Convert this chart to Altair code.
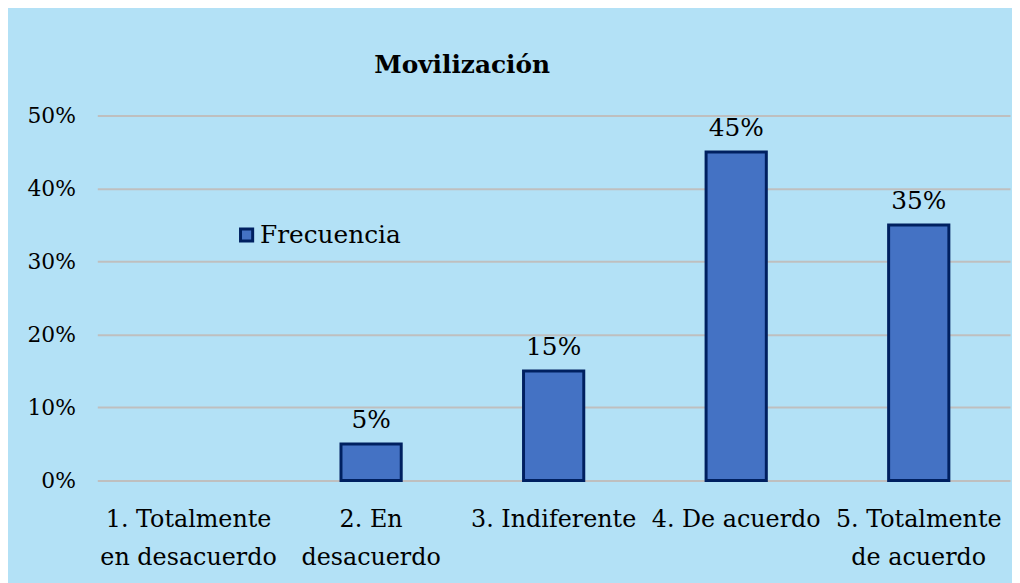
import altair as alt
import pandas as pd

categories = ["1. Totalmente\nen desacuerdo", "2. En\ndesacuerdo", "3. Indiferente", "4. De acuerdo", "5. Totalmente\nde acuerdo"]
values = [0.0, 0.05, 0.15, 0.45, 0.35]
series_name = "Frecuencia"
y_ticks = [0.0, 0.1, 0.2, 0.3, 0.4, 0.5]

df = pd.DataFrame({"cat": categories, "val": values, "serie": [series_name] * len(categories)})

FONT = "DejaVu Serif"
BG = "#B3E1F6"
FILL = "#4472C4"
EDGE = "#002060"

x_enc = alt.X("cat:N", sort=categories, title=None,
              scale=alt.Scale(domain=categories, paddingInner=0.67, paddingOuter=0.335),
              axis=alt.Axis(labelExpr="split(datum.value, '\\n')", labelAngle=0,
                            labelFontSize=24, labelFont=FONT, labelColor="#000000",
                            labelPadding=27, labelLineHeight=39, labelLimit=0,
                            ticks=False, domain=False, grid=False, labelBaseline="top"))
y_enc = alt.Y("val:Q", title=None,
              scale=alt.Scale(domain=[0, 0.5], nice=False),
              axis=alt.Axis(values=y_ticks, format=".0%", labelFontSize=22, labelFont=FONT,
                            labelColor="#000000", labelPadding=22, ticks=False, domain=False,
                            grid=True, gridColor="#BFBFBF", gridWidth=2))

base = alt.Chart(df).transform_filter("datum.val > 0")

bars = base.mark_bar(stroke=EDGE, strokeWidth=3).encode(
    x=x_enc,
    y=y_enc,
    color=alt.Color("serie:N", title=None,
                    scale=alt.Scale(domain=[series_name], range=[FILL]),
                    legend=alt.Legend(orient="none", legendX=138, legendY=108,
                                      symbolType="square", symbolSize=150,
                                      symbolStrokeColor=EDGE, symbolStrokeWidth=3,
                                      labelFont=FONT, labelFontSize=25, labelColor="#000000",
                                      labelOffset=1, labelLimit=0)),
)

labels = base.mark_text(
    font=FONT, fontSize=25, baseline="bottom", dy=-11, color="#000000"
).encode(
    x=alt.X("cat:N", sort=categories),
    y="val:Q",
    text=alt.Text("val:Q", format=".0%"),
)

chart = (bars + labels).properties(
    width=920, height=368,
    title=alt.TitleParams("Movilización", font=FONT, fontSize=25, fontWeight="bold",
                          color="#000000", anchor="start", dx=350, offset=27),
    background=BG,
    padding={"left": 90, "top": 106, "right": 2, "bottom": 101},
    autosize=alt.AutoSizeParams(type="none"),
).configure_view(stroke=None)

chart.save("out.html", embed_options={"renderer": "svg", "actions": False})
